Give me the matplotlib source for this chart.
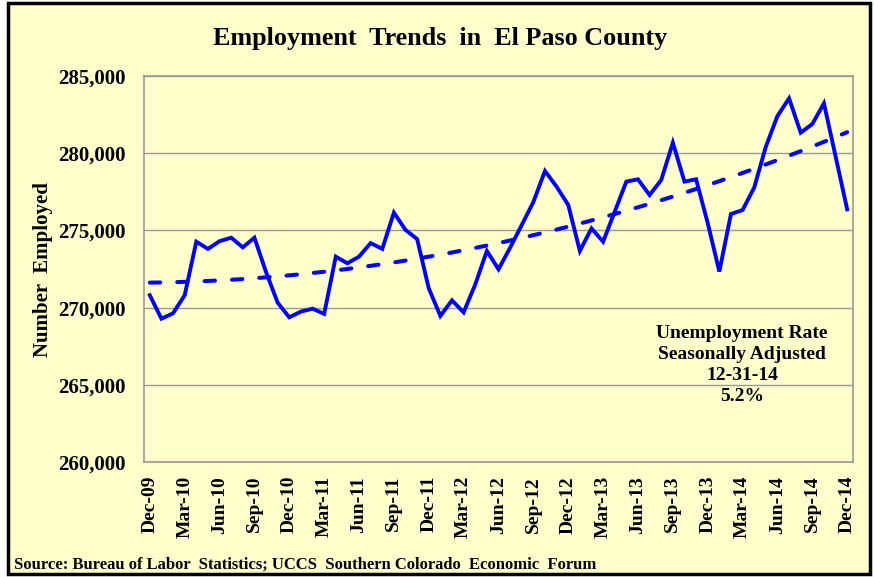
import numpy as np
import matplotlib
matplotlib.use("Agg")
import matplotlib.pyplot as plt
from matplotlib.patches import Rectangle
from matplotlib.ticker import FuncFormatter

plt.rcParams["font.family"] = ["Liberation Serif", "DejaVu Serif"]
plt.rcParams["font.weight"] = "bold"

# monthly employment, Dec-09 .. Dec-14
months = ["Dec-09", "Jan-10", "Feb-10", "Mar-10", "Apr-10", "May-10", "Jun-10", "Jul-10",
          "Aug-10", "Sep-10", "Oct-10", "Nov-10", "Dec-10", "Jan-11", "Feb-11", "Mar-11",
          "Apr-11", "May-11", "Jun-11", "Jul-11", "Aug-11", "Sep-11", "Oct-11", "Nov-11",
          "Dec-11", "Jan-12", "Feb-12", "Mar-12", "Apr-12", "May-12", "Jun-12", "Jul-12",
          "Aug-12", "Sep-12", "Oct-12", "Nov-12", "Dec-12", "Jan-13", "Feb-13", "Mar-13",
          "Apr-13", "May-13", "Jun-13", "Jul-13", "Aug-13", "Sep-13", "Oct-13", "Nov-13",
          "Dec-13", "Jan-14", "Feb-14", "Mar-14", "Apr-14", "May-14", "Jun-14", "Jul-14",
          "Aug-14", "Sep-14", "Oct-14", "Nov-14", "Dec-14"]
employed = [270800, 269280, 269630, 270800, 274270, 273800, 274300, 274530,
            273900, 274530, 272300, 270320, 269370, 269740, 269930, 269590,
            273300, 272870, 273300, 274180, 273800, 276150, 275030, 274440,
            271250, 269460, 270470, 269690, 271500, 273670, 272480, 273880,
            275350, 276840, 278850, 277830, 276650, 273670, 275130, 274270,
            276210, 278160, 278310, 277290, 278260, 280680, 278160, 278310,
            275480, 272330, 276060, 276320, 277770, 280420, 282410, 283550,
            281330, 281890, 283230, 279800, 276360]

x = np.arange(len(employed))
# excel-style polynomial trendline
trend = np.polyval(np.polyfit(x, employed, 2), x)

bg = "#FFFFCC"
fig = plt.figure(figsize=(8.74, 5.77), dpi=100, facecolor="white")
fig.patches.append(Rectangle((8 / 874, 3 / 577), 862 / 874, 571 / 577, transform=fig.transFigure,
                             facecolor=bg, edgecolor="black", linewidth=2.5, zorder=-5))

ax = fig.add_axes([144 / 874, 1 - 462 / 577, 709 / 874, 386 / 577])
ax.set_facecolor(bg)
ax.plot(x, employed, color="#0000FF", linewidth=2.8, solid_joinstyle="miter")
ax.plot(x, trend, color="#0000FF", linewidth=2.9, linestyle=(0, (2.6, 4.2)),
        dash_capstyle="round")

ax.set_xlim(-0.5, len(employed) - 0.5)
ax.set_ylim(260000, 285000)
ax.set_yticks(np.arange(260000, 285001, 5000))
ax.yaxis.set_major_formatter(FuncFormatter(lambda v, p: f"{int(v):,}"))
ax.set_xticks(x[::3])
ax.set_xticklabels(months[::3], rotation=90, fontsize=14, fontweight="bold")
ax.tick_params(axis="y", labelsize=15, length=0, pad=13)
ax.tick_params(axis="x", length=0, pad=10)
ax.grid(axis="y", color="#999999", linewidth=1)
ax.set_axisbelow(True)
for s in ax.spines.values():
    s.set_color("#999999")
    s.set_linewidth(1.2)

fig.text(43 / 874, 1 - 270 / 577, "Number  Employed", rotation=90,
         ha="center", va="center", fontsize=15, fontweight="bold")
fig.text(440 / 874, 1 - 38 / 577, "Employment  Trends  in  El Paso County",
         ha="center", va="center", fontsize=18.8, fontweight="bold")
fig.text(742 / 874, 1 - 365 / 577, "Unemployment Rate\nSeasonally Adjusted\n12-31-14\n5.2%",
         ha="center", va="center", fontsize=14, fontweight="bold", linespacing=1.3)
fig.text(14 / 874, 1 - 565 / 577,
         "Source: Bureau of Labor  Statistics; UCCS  Southern Colorado  Economic  Forum",
         ha="left", va="center", fontsize=12, fontweight="bold")

fig.savefig("out.png", dpi=100, facecolor=fig.get_facecolor())
